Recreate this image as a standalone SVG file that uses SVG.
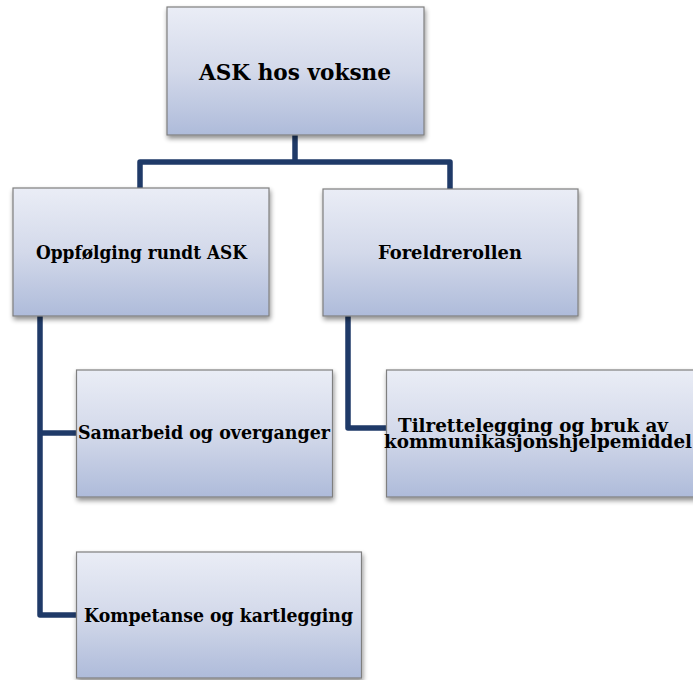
<svg xmlns="http://www.w3.org/2000/svg" width="693" height="680" viewBox="0 0 693 680">
<defs>
<linearGradient id="boxGrad" x1="0" y1="0" x2="0" y2="1">
<stop offset="0" stop-color="#EAEDF6"/>
<stop offset="0.5" stop-color="#D3D9EA"/>
<stop offset="1" stop-color="#AEBBDA"/>
</linearGradient>
<filter id="shadow" x="-10%" y="-10%" width="125%" height="130%">
<feGaussianBlur in="SourceAlpha" stdDeviation="2.5"/>
<feOffset dx="1" dy="3" result="b"/>
<feComponentTransfer><feFuncA type="linear" slope="0.45"/></feComponentTransfer>
<feMerge><feMergeNode/><feMergeNode in="SourceGraphic"/></feMerge>
</filter>
</defs>
<style>
.box{fill:url(#boxGrad);stroke:#7F7F7F;stroke-width:1.2;filter:url(#shadow)}
.lbl{font-family:"DejaVu Serif","Liberation Serif",serif;font-weight:bold;fill:#000}
.big{font-size:23px}
.mid{font-size:18px}
.conn{fill:none;stroke:#1F3A68;stroke-width:5.5;stroke-linejoin:round}
</style>
<g id="connectors">
<path class="conn" d="M295,135 V162"/>
<path class="conn" d="M140,189 V162 H450 V189"/>
<path class="conn" d="M40,316 V615 H77"/>
<path class="conn" d="M40,433 H77"/>
<path class="conn" d="M348,316 V428 H387"/>
</g>
<g id="node-ask">
<rect class="box" x="167" y="7" width="257" height="128"/>
<text class="lbl big" x="199" y="80" textLength="192" lengthAdjust="spacingAndGlyphs">ASK hos voksne</text>
</g>
<g id="node-oppfolging">
<rect class="box" x="13" y="188" width="256" height="128"/>
<text class="lbl mid" x="36" y="259" textLength="211" lengthAdjust="spacingAndGlyphs">Oppfølging rundt ASK</text>
</g>
<g id="node-foreldrerollen">
<rect class="box" x="323" y="189" width="255" height="127"/>
<text class="lbl mid" x="378" y="259" textLength="144" lengthAdjust="spacingAndGlyphs">Foreldrerollen</text>
</g>
<g id="node-samarbeid">
<rect class="box" x="76.5" y="370" width="256" height="127"/>
<text class="lbl mid" x="78" y="439" textLength="252" lengthAdjust="spacingAndGlyphs">Samarbeid og overganger</text>
</g>
<g id="node-kompetanse">
<rect class="box" x="76.5" y="552" width="285" height="126"/>
<text class="lbl mid" x="84" y="622" textLength="269" lengthAdjust="spacingAndGlyphs">Kompetanse og kartlegging</text>
</g>
<g id="node-tilrettelegging">
<rect class="box" x="386.5" y="370" width="320" height="127"/>
<text class="lbl mid" x="398" y="432" textLength="270" lengthAdjust="spacingAndGlyphs">Tilrettelegging og bruk av</text>
<text class="lbl mid" x="384" y="448" textLength="308" lengthAdjust="spacingAndGlyphs">kommunikasjonshjelpemiddel</text>
</g>
</svg>
